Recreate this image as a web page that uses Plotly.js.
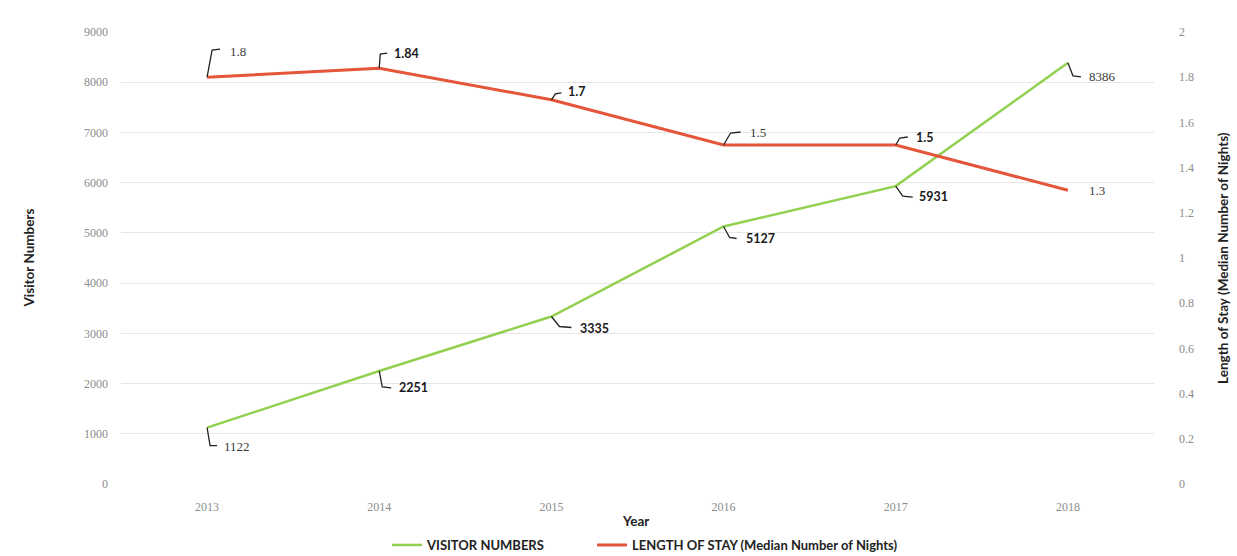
<!DOCTYPE html>
<html>
<head>
<meta charset="utf-8">
<script src="https://cdn.plot.ly/plotly-3.0.1.min.js"></script>
<style>html,body{margin:0;padding:0;background:#fff;}#chart{width:1237px;height:556px;}</style>
</head>
<body>
<div id="chart"></div>
<script>
// ---- data ----
const years = [2013, 2014, 2015, 2016, 2017, 2018];
const visitors = [1122, 2251, 3335, 5127, 5931, 8386];
const stay = [1.8, 1.84, 1.7, 1.5, 1.5, 1.3];
const visitorName = 'VISITOR NUMBERS';
const stayName = 'LENGTH OF STAY (Median Number of Nights)';

// ---- label styling (pixel offsets relative to each point; up is positive) ----
const visitorBold = [false, true, true, true, true, false];
const visitorLeader = [[3,-18,10,-18],[3,-16,12,-17],[8,-10,20,-11],[6,-11,13,-12],[7,-10,17,-11],[5,-13,13,-14]];
const visitorText = [[15,-19],[18,-17],[27,-12],[20,-12],[21,-10],[19,-14]];
const stayBold = [false, true, true, false, true, false];
const stayLeader = [[5,27,13,28],[1,14,8,15],[4,6,10,7],[7,12,17,13],[4,7,12,8],null];
const stayText = [[21,26],[13,15],[15,8],[24,13],[18,8],[19,0]];

const GREEN = '#92d050';
const RED = '#e4553a';
const normalFont = {family: 'Liberation Serif, serif', size: 13, color: '#3a3a3a'};
const boldFont = {family: 'Lato, sans-serif', size: 12.5, color: '#1a1a1a', weight: 700};

const shapes = [];
const annotations = [];
function addLabels(vals, yref, bold, leader, txt) {
  vals.forEach((v, i) => {
    const L = leader[i];
    if (L) {
      shapes.push({
        type: 'path', xref: 'x', yref: yref,
        xsizemode: 'pixel', ysizemode: 'pixel',
        xanchor: years[i], yanchor: v,
        path: `M0,0 L${L[0]},${L[1]} L${L[2]},${L[3]}`,
        line: {color: '#222', width: 1.3}
      });
    }
    annotations.push({
      x: years[i], y: v, xref: 'x', yref: yref,
      text: String(v), showarrow: false,
      xanchor: 'left', yanchor: 'middle',
      xshift: txt[i][0], yshift: txt[i][1],
      font: bold[i] ? boldFont : normalFont
    });
  });
}
addLabels(visitors, 'y', visitorBold, visitorLeader, visitorText);
addLabels(stay, 'y2', stayBold, stayLeader, stayText);

// axis titles
const titleFont = {family: 'Lato, sans-serif', size: 13.5, color: '#222', weight: 700};
annotations.push({
  text: 'Visitor Numbers', xref: 'paper', yref: 'paper', x: -0.0895, y: 0.5,
  xanchor: 'center', yanchor: 'middle', textangle: -90, showarrow: false, font: titleFont
});
annotations.push({
  text: 'Length of Stay (Median Number of Nights)', xref: 'paper', yref: 'paper', x: 1.0667, y: 0.5,
  xanchor: 'center', yanchor: 'middle', textangle: -90, showarrow: false, font: titleFont
});
annotations.push({
  text: 'Year', xref: 'paper', yref: 'paper', x: 0.4976, y: -0.082,
  xanchor: 'center', yanchor: 'middle', showarrow: false, font: titleFont
});

const tickFont = {family: 'Liberation Serif, serif', size: 12, color: '#8c8c8c'};
const legendFont = {family: 'Lato, sans-serif', size: 13, color: '#222', weight: 700};

const data = [
  {x: years, y: visitors, name: visitorName, type: 'scatter', mode: 'lines',
   line: {color: GREEN, width: 2.5}, yaxis: 'y', legend: 'legend'},
  {x: years, y: stay, name: stayName, type: 'scatter', mode: 'lines',
   line: {color: RED, width: 3}, yaxis: 'y2', legend: 'legend2'}
];

const layout = {
  width: 1237, height: 556,
  margin: {l: 121, r: 83, t: 32, b: 72, autoexpand: false},
  paper_bgcolor: '#ffffff', plot_bgcolor: '#ffffff',
  showlegend: true,
  legend: {orientation: 'h', x: 0.2575, xanchor: 'left', y: -0.135, yanchor: 'middle',
           font: legendFont, itemwidth: 30},
  legend2: {orientation: 'h', x: 0.456, xanchor: 'left', y: -0.135, yanchor: 'middle',
           font: legendFont, itemwidth: 30},
  xaxis: {range: [2012.5, 2018.5], tickmode: 'array', tickvals: years, ticktext: years.map(String),
          showgrid: false, zeroline: false, showline: false, ticks: '',
          tickfont: tickFont, ticklabelstandoff: 14},
  yaxis: {range: [0, 9000], dtick: 1000, tick0: 0, showgrid: true, gridcolor: '#e6e6e6', gridwidth: 1,
          zeroline: false, showline: false, ticks: '', tickfont: tickFont, ticklabelstandoff: 12},
  yaxis2: {range: [0, 2], dtick: 0.2, tick0: 0, overlaying: 'y', side: 'right', showgrid: false,
           zeroline: false, showline: false, ticks: '', tickfont: tickFont, ticklabelstandoff: 24},
  shapes: shapes,
  annotations: annotations
};

Plotly.newPlot('chart', data, layout, {displayModeBar: false, staticPlot: true});
</script>
</body>
</html>
